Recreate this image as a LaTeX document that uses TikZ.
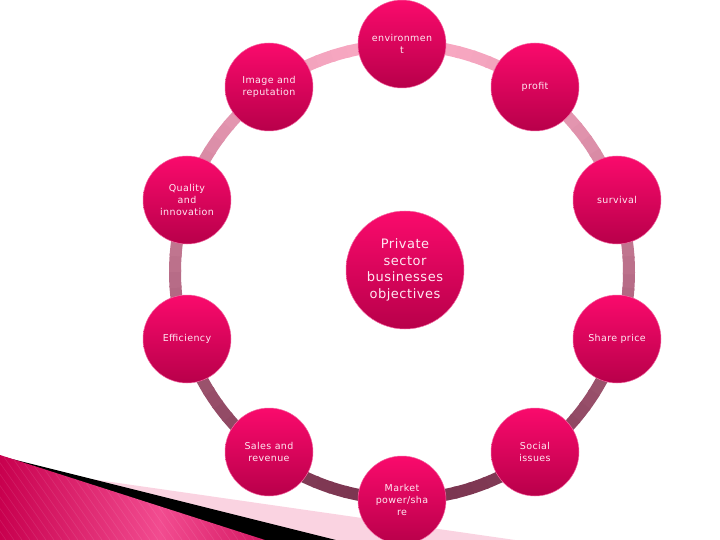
\documentclass[tikz,border=0pt]{standalone}
\usepackage{fontspec}
\setmainfont{DejaVu Sans}[LetterSpace=4]
\definecolor{ringlight}{HTML}{F8A8C2}
\definecolor{ringdark}{HTML}{7B3550}
\definecolor{bubtop}{HTML}{FA0A6C}
\definecolor{bubbot}{HTML}{B8004A}
\definecolor{bubedge}{HTML}{F26AA2}
\definecolor{bubtext}{HTML}{FFE8F2}
\definecolor{magA}{HTML}{C8004E}
\definecolor{magB}{HTML}{F24C90}
\definecolor{paleband}{HTML}{FAD3E1}
\tikzset{
  bub/.style={circle, minimum size=88, inner sep=0pt, top color=bubtop, bottom color=bubbot,
    draw=bubedge, line width=0.5pt, text=bubtext, align=center,
    font=\fontsize{9.5}{12}\selectfont},
  hub/.style={bub, minimum size=118, font=\fontsize{13}{16.5}\selectfont},
  ringseg/.style={line width=12pt}
}
\begin{document}
\begin{tikzpicture}[x=1pt,y=-1pt]
\useasboundingbox (0,0) rectangle (720,540);
% bottom-left decoration
\fill[paleband] (0,466) -- (515,540) -- (0,540) -- cycle;
\fill[black] (0,456) -- (336,540) -- (0,540) -- cycle;
\begin{scope}
\clip (0,455) -- (265,540) -- (0,540) -- cycle;
\shade[left color=magA, right color=magB] (0,440) rectangle (160,540);
\shade[left color=magB, right color=magA!70!magB] (160,440) rectangle (270,540);
\foreach \i in {-120,-112,...,300} \draw[white, opacity=0.10, line width=0.6pt] (\i,440) -- (\i+70,540);
\end{scope}
% ring
\foreach \a in {0,4,...,356} {
  \pgfmathsetmacro\t{(1+sin(\a+2))*50}
  \draw[ringseg, color=ringdark!\t!ringlight] (402,272) ++(\a:227) arc[start angle=\a, end angle=\a+4.6, radius=227];
}
% nodes
\node[bub] (env) at (402,44) {environmen\\t};
\node[bub] (img) at (269,87) {Image and\\reputation};
\node[bub] (prof) at (535,87) {profit};
\node[bub] (qual) at (187,200) {Quality\\and\\innovation};
\node[bub] (surv) at (617,200) {survival};
\node[bub] (eff) at (187,339) {Efficiency};
\node[bub] (share) at (617,339) {Share price};
\node[bub] (sales) at (269,452) {Sales and\\revenue};
\node[bub] (soc) at (535,452) {Social\\issues};
\node[bub] (mkt) at (402,500) {Market\\power/sha\\re};
\node[hub] (hub) at (405,270) {Private\\sector\\businesses\\objectives};
\end{tikzpicture}
\end{document}
